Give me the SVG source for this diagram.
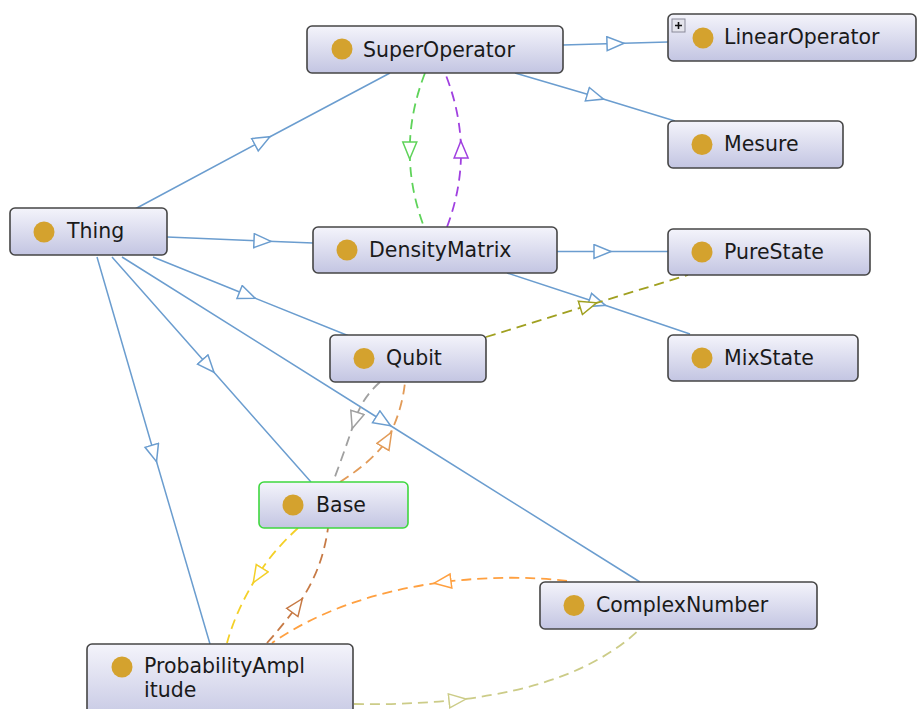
<svg xmlns="http://www.w3.org/2000/svg" width="918" height="709" viewBox="0 0 918 709">
<defs>
<linearGradient id="ng" x1="0" y1="0" x2="0" y2="1">
<stop offset="0" stop-color="#f4f4fb"/>
<stop offset="1" stop-color="#c3c5e2"/>
</linearGradient>
<marker id="mb" markerUnits="userSpaceOnUse" markerWidth="20" markerHeight="17" refX="9" refY="8" orient="auto"><path d="M1,1 L18,8 L1,15 z" fill="#fff" stroke="#6b9dcf" stroke-width="1.5"/></marker>
<marker id="mgreen" markerUnits="userSpaceOnUse" markerWidth="20" markerHeight="17" refX="9" refY="8" orient="auto"><path d="M1,1 L18,8 L1,15 z" fill="#fff" stroke="#5fd35a" stroke-width="1.5"/></marker>
<marker id="mpurple" markerUnits="userSpaceOnUse" markerWidth="20" markerHeight="17" refX="9" refY="8" orient="auto"><path d="M1,1 L18,8 L1,15 z" fill="#fff" stroke="#a040e0" stroke-width="1.5"/></marker>
<marker id="molive" markerUnits="userSpaceOnUse" markerWidth="20" markerHeight="17" refX="9" refY="8" orient="auto"><path d="M1,1 L18,8 L1,15 z" fill="#fff" stroke="#a0a020" stroke-width="1.5"/></marker>
<marker id="mgray" markerUnits="userSpaceOnUse" markerWidth="20" markerHeight="17" refX="9" refY="8" orient="auto"><path d="M1,1 L18,8 L1,15 z" fill="#fff" stroke="#a0a0a0" stroke-width="1.5"/></marker>
<marker id="mlorange" markerUnits="userSpaceOnUse" markerWidth="20" markerHeight="17" refX="9" refY="8" orient="auto"><path d="M1,1 L18,8 L1,15 z" fill="#fff" stroke="#e29b58" stroke-width="1.5"/></marker>
<marker id="mbrown" markerUnits="userSpaceOnUse" markerWidth="20" markerHeight="17" refX="9" refY="8" orient="auto"><path d="M1,1 L18,8 L1,15 z" fill="#fff" stroke="#c77a45" stroke-width="1.5"/></marker>
<marker id="myellow" markerUnits="userSpaceOnUse" markerWidth="20" markerHeight="17" refX="9" refY="8" orient="auto"><path d="M1,1 L18,8 L1,15 z" fill="#fff" stroke="#f4d028" stroke-width="1.5"/></marker>
<marker id="morange" markerUnits="userSpaceOnUse" markerWidth="20" markerHeight="17" refX="9" refY="8" orient="auto"><path d="M1,1 L18,8 L1,15 z" fill="#fff" stroke="#ffa040" stroke-width="1.5"/></marker>
<marker id="mkhaki" markerUnits="userSpaceOnUse" markerWidth="20" markerHeight="17" refX="9" refY="8" orient="auto"><path d="M1,1 L18,8 L1,15 z" fill="#fff" stroke="#cccc88" stroke-width="1.5"/></marker>
</defs>
<style>
.e{fill:none;stroke:#6b9dcf;stroke-width:1.5;marker-mid:url(#mb)}
.d{fill:none;stroke-width:1.8;stroke-dasharray:10 6}
.box{fill:url(#ng);stroke:#454545;stroke-width:1.6}
.dot{fill:#d4a22e}
.t{font-family:"DejaVu Sans",sans-serif;font-size:20.5px;fill:#1a1a1a}
</style>
<rect width="918" height="709" fill="#fff"/>
<g id="connectors">
<path class="e" d="M135,209 L262,141 L390,73"/>
<path class="e" d="M167,237 L262,241 L313,243"/>
<path class="e" d="M153,257 L247,295 L349,336"/>
<path class="e" d="M112,257 L208,365.5 L311,482"/>
<path class="e" d="M97,257 L154,453 L210,644"/>
<path class="e" d="M122,257 L383,421 L640,582"/>
<path class="e" d="M563,45 L615,43.5 L668,42"/>
<path class="e" d="M515,73 L595,96.5 L675,121"/>
<path class="e" d="M557,251.5 L602,251.5 L668,251.5"/>
<path class="e" d="M507,273 L597,302.5 L690,334"/>
<path class="d" stroke="#a0a020" marker-mid="url(#molive)" d="M486,337 L588,305.5 L688,275"/>
<path class="d" stroke="#5fd35a" marker-mid="url(#mgreen)" d="M425,73 Q410,111.5 409.75,150 Q409.5,188.5 424,227"/>
<path class="d" stroke="#a040e0" marker-mid="url(#mpurple)" d="M447,227 Q461.5,188.5 461,150 Q460.5,111.5 445,73"/>
<path class="d" stroke="#a0a0a0" marker-mid="url(#mgray)" d="M380,382 Q362,398 355,420 Q345,450 333,482"/>
<path class="d" stroke="#e29b58" marker-mid="url(#mlorange)" d="M340,482 Q374,460 387,440 Q402,412 405,382"/>
<path class="d" stroke="#c77a45" marker-mid="url(#mbrown)" d="M267,643 Q284,624 297,606 Q322,572 328,528"/>
<path class="d" stroke="#f4d028" marker-mid="url(#myellow)" d="M298,528 Q272,552 258,575 Q236,610 227,643"/>
<path class="d" stroke="#ffa040" marker-mid="url(#morange)" d="M567,581 Q510,574 443,582 Q340,596 272,643"/>
<path class="d" stroke="#cccc88" marker-mid="url(#mkhaki)" d="M354,704 Q405,705 457,700 Q580,686 640,629"/>
</g>
<g id="SuperOperator"><rect class="box" x="307" y="26" width="256" height="47" rx="5"/><circle class="dot" cx="342" cy="49" r="10.5"/><text class="t" x="363" y="56.5">SuperOperator</text></g>
<g id="LinearOperator"><rect class="box" x="668" y="14" width="248" height="47" rx="5"/><rect x="672" y="19" width="13" height="13" fill="#e4e4ec" stroke="#8a8a9a" stroke-width="1"/><path d="M675,25.5 H682 M678.5,22 V29" stroke="#111" stroke-width="1.6"/><circle class="dot" cx="703" cy="38" r="10.5"/><text class="t" x="724" y="44">LinearOperator</text></g>
<g id="Mesure"><rect class="box" x="668" y="121" width="175" height="47" rx="5"/><circle class="dot" cx="702" cy="144.5" r="10.5"/><text class="t" x="724" y="151">Mesure</text></g>
<g id="Thing"><rect class="box" x="10" y="208" width="157" height="47" rx="5"/><circle class="dot" cx="44" cy="232" r="10.5"/><text class="t" x="67" y="238">Thing</text></g>
<g id="DensityMatrix"><rect class="box" x="313" y="227" width="244" height="46" rx="5"/><circle class="dot" cx="347" cy="250" r="10.5"/><text class="t" x="369" y="256.5">DensityMatrix</text></g>
<g id="PureState"><rect class="box" x="668" y="229" width="202" height="46" rx="5"/><circle class="dot" cx="702" cy="252" r="10.5"/><text class="t" x="724" y="258.5">PureState</text></g>
<g id="Qubit"><rect class="box" x="330" y="335" width="156" height="47" rx="5"/><circle class="dot" cx="364" cy="358.5" r="10.5"/><text class="t" x="386" y="365">Qubit</text></g>
<g id="MixState"><rect class="box" x="668" y="335" width="190" height="46" rx="5"/><circle class="dot" cx="702" cy="358" r="10.5"/><text class="t" x="724" y="364.5">MixState</text></g>
<g id="Base"><rect class="box" x="259" y="482" width="149" height="46" rx="5" style="stroke:#3fd83f"/><circle class="dot" cx="293" cy="505" r="10.5"/><text class="t" x="316" y="511.5">Base</text></g>
<g id="ComplexNumber"><rect class="box" x="540" y="582" width="277" height="47" rx="5"/><circle class="dot" cx="574" cy="605.5" r="10.5"/><text class="t" x="596" y="612">ComplexNumber</text></g>
<g id="ProbabilityAmplitude"><rect class="box" x="87" y="644" width="266" height="80" rx="5"/><circle class="dot" cx="122" cy="667" r="10.5"/><text class="t" x="144" y="673">ProbabilityAmpl</text><text class="t" x="144" y="697">itude</text></g>
</svg>
